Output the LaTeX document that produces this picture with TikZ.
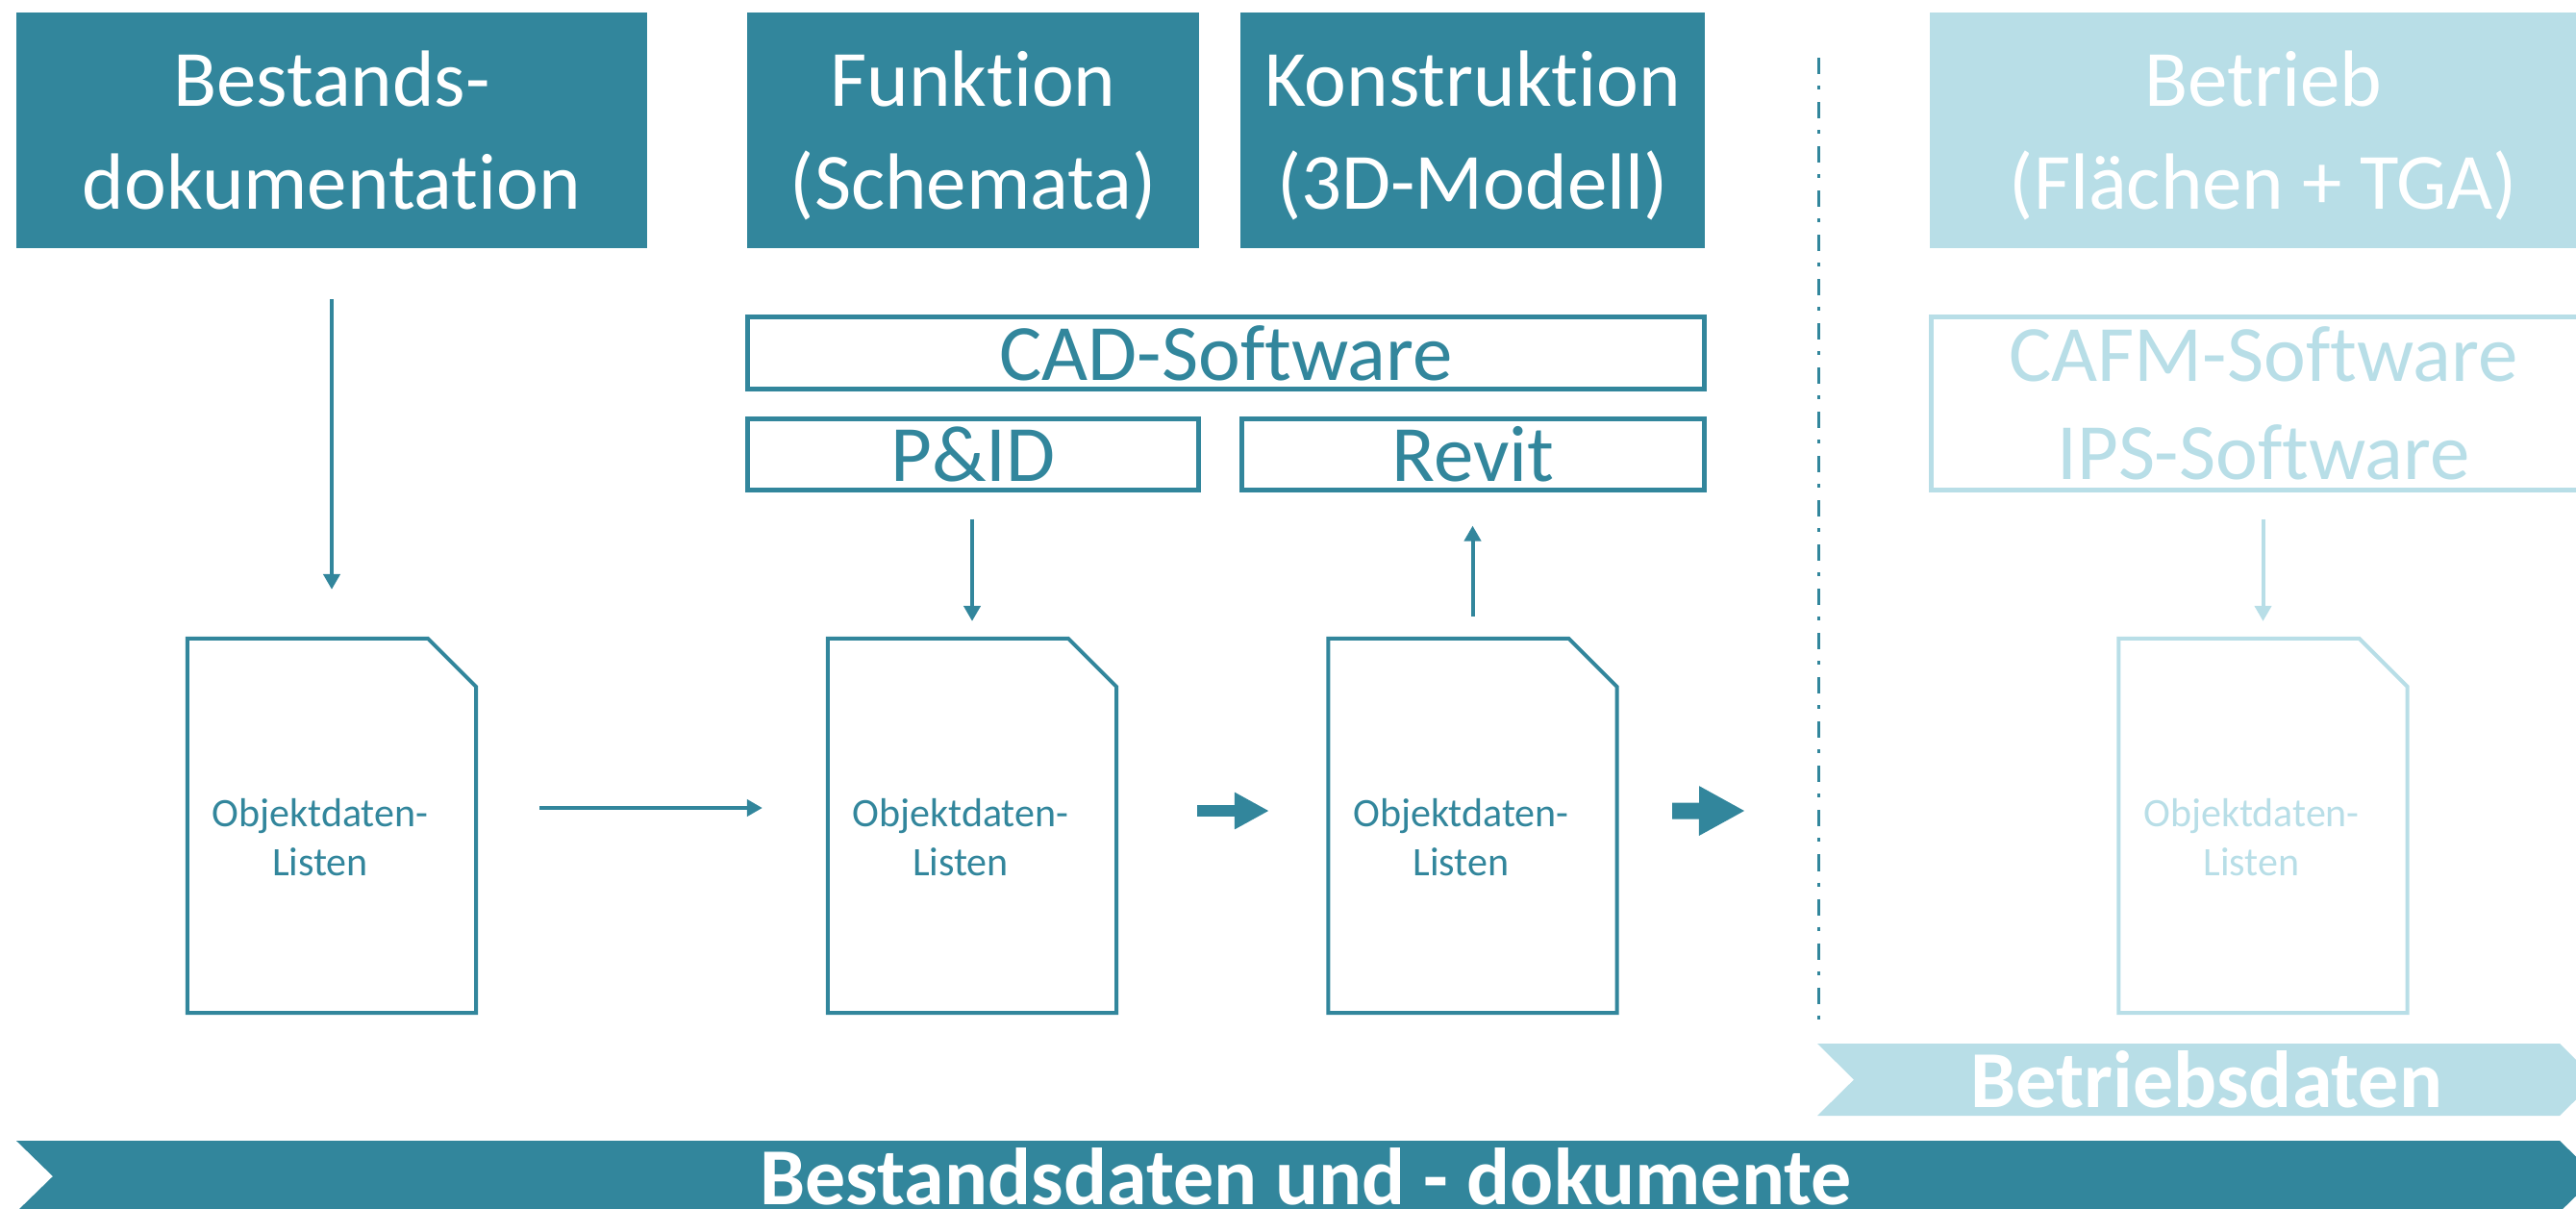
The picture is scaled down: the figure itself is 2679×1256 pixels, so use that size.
\documentclass[tikz,border=0pt]{standalone}
\usepackage{fontspec}
\setmainfont{Carlito}[Ligatures=NoCommon,RawFeature={-liga;-clig;-calt}]
\usepackage{tikz}
\usetikzlibrary{arrows.meta}
\definecolor{bimteal}{RGB}{50,134,156}
\definecolor{bimpale}{RGB}{184,222,231}
\newcommand\tstrut{\rule[-0.23cm]{0pt}{1.03cm}}

\begin{document}
\begin{tikzpicture}[x=0.01cm,y=-0.01cm,
    headbox/.style={fill=#1,text=white,minimum height=2.45cm,inner sep=0pt,outer sep=0pt,align=center,font=\fontsize{23.6}{29}\selectfont},
    headbox/.default=bimteal,
    toolbox/.style={draw=#1,text=#1,line width=0.05cm,minimum height=0.75cm,inner sep=0pt,outer sep=0pt,align=center,font=\fontsize{23.6}{29}\selectfont},
    toolbox/.default=bimteal,
    docbox/.style={minimum width=3cm,minimum height=3.89cm,inner sep=0pt,outer sep=0pt},
    doctext/.style={text=#1,align=center,font=\fontsize{11.95}{14.5}\selectfont,xshift=-0.12cm,yshift=-0.125cm},
    thinarrow/.style={draw=#1,line width=0.04cm,-{Triangle[length=0.16cm,width=0.17cm]}},
    thinarrow/.default=bimteal,
    bannertext/.style={text=white,font=\fontsize{23.9}{29}\selectfont\bfseries}]
    \useasboundingbox (0,0) rectangle (2679,1256);
    \clip (0,0) rectangle (2679,1256);
    % Phase headers
    \node[headbox, minimum width=6.56cm] (bestand) at (345,135.5) {\tstrut Bestands-\\dokumentation\tstrut};
    \node[headbox, minimum width=4.70cm] (funktion) at (1012,135.5) {\tstrut Funktion\\(Schemata)\tstrut};
    \node[headbox, minimum width=4.83cm] (konstr) at (1531.5,135.5) {\tstrut Konstruktion\\(3D-Modell)\tstrut};
    \node[headbox=bimpale, minimum width=6.94cm] (betrieb) at (2354,135.5) {\tstrut Betrieb\\(Flächen + TGA)\tstrut};
    % Software boxes
    \node[toolbox, minimum width=9.95cm] (cad) at (1275,367) {CAD-Software};
    \node[toolbox, minimum width=4.69cm, minimum height=0.74cm] (pid) at (1012,472.5) {P\&ID};
    \node[toolbox, minimum width=4.81cm, minimum height=0.74cm] (revit) at (1532,472.5) {Revit};
    \node[toolbox=bimpale, minimum width=6.91cm, minimum height=1.80cm] (cafm) at (2354,419.5) {CAFM-Software\\IPS-Software};
    % Object data lists
    \foreach \d/\c/\x in {d1/bimteal/345, d2/bimteal/1011, d3/bimteal/1531.5, d4/bimpale/2353.5} {
        \node[docbox, label={[doctext=\c]center:{Objektdaten-\\Listen}}] (\d) at (\x,858.5) {};
        \draw[draw=\c, line width=0.04cm] (\d.north west) -- ([xshift=-0.5cm]\d.north east) -- ([yshift=-0.5cm]\d.north east) -- (\d.south east) -- (\d.south west) -- cycle;
    }
    % Arrows
    \draw[thinarrow, shorten <=0.53cm, shorten >=0.51cm] (bestand.south) -- (d1.north);
    \draw[thinarrow, shorten <=0.30cm, shorten >=0.18cm] (d2.north |- pid.south) -- (d2.north);
    \draw[thinarrow, shorten <=0.23cm, shorten >=0.37cm] (d3.north) -- (d3.north |- revit.south);
    \draw[thinarrow=bimpale, shorten <=0.30cm, shorten >=0.18cm] (d4.north |- cafm.south) -- (d4.north);
    \draw[thinarrow, shorten <=0.66cm, shorten >=0.68cm] ([yshift=0.185cm]d1.east) -- ([yshift=0.185cm]d2.west);
    \draw[bimteal, line width=0.12cm, -{Triangle[length=0.36cm,width=0.36cm]}, shorten <=0.84cm, shorten >=0.615cm] ([yshift=0.155cm]d2.east) -- ([yshift=0.155cm]d3.west);
    \coordinate (handover) at (1815,843);
    \draw[bimteal, line width=0.17cm, -{Triangle[length=0.48cm,width=0.48cm]}, shorten <=0.575cm] ([yshift=0.155cm]d3.east) -- (handover);
    % Divider
    \draw[bimteal, line width=0.03cm, dash pattern=on 0.17cm off 0.12cm on 0.04cm off 0.13cm] (1891,60) -- (1891,1068);
    % Banners
    \fill[bimpale] (1890,1085) -- (2662,1085) -- (2700,1122.5) -- (2662,1160) -- (1890,1160) -- (1928,1122.5) -- cycle;
    \node[bannertext] (betriebsdaten) at (2295,1122.5) {Betriebsdaten};
    \fill[bimteal] (17,1186) -- (2662,1186) -- (2700,1223) -- (2662,1260) -- (17,1260) -- (55,1223) -- cycle;
    \node[bannertext] (bestandsdaten) at (1358,1223) {Bestandsdaten und - dokumente};
\end{tikzpicture}
\end{document}
